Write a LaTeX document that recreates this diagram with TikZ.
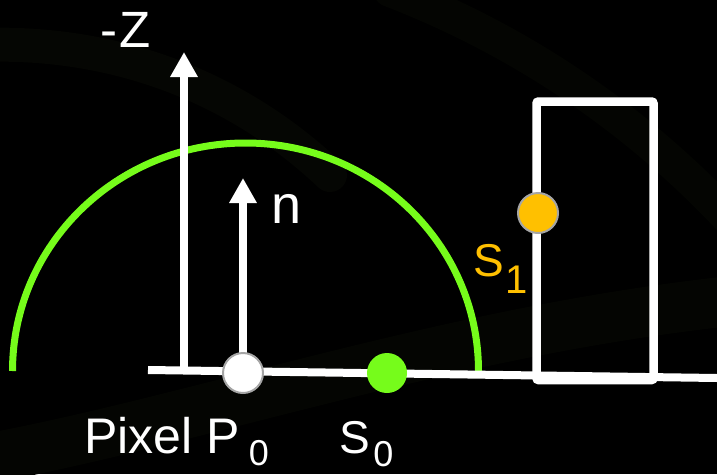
\documentclass[tikz,border=0pt]{standalone}
\usepackage{fontspec}
\setmainfont{Liberation Sans}
\usetikzlibrary{arrows.meta}
\definecolor{arcgreen}{RGB}{118,252,27}
\definecolor{sorange}{RGB}{255,192,0}
\definecolor{rimgray}{RGB}{165,165,165}
\definecolor{band}{RGB}{5,6,3}
\definecolor{bandb}{RGB}{4,5,2}
\begin{document}
\begin{tikzpicture}[x=1pt,y=-1pt,
  wline/.style={draw=white,line width=8pt},
  uparrow/.style={draw=white,line width=8.5pt,-{Triangle[width=26pt,length=25pt]}},
  dot/.style={circle,minimum size=40pt,inner sep=0pt,line width=2pt},
  lbl/.style={inner sep=0pt,anchor=base west,text=white},
  faint/.style={draw=band,line width=34pt,line cap=round},
]
\fill[black] (0,0) rectangle (717,474);
\useasboundingbox (0,0) rectangle (717,474);

% faint background swooshes
\draw[faint] (-20,45) .. controls (120,40) and (240,90) .. (330,175);
\draw[faint,draw=bandb] (390,-10) .. controls (520,40) and (640,120) .. (740,230);
\draw[faint,draw=bandb,line width=50pt] (-20,460) .. controls (200,420) and (450,330) .. (740,300);

% green hemisphere
\draw[draw=arcgreen,line width=7pt] (12.5,371) arc[start angle=180,end angle=360,x radius=233,y radius=228];

% ground line
\coordinate (gl) at (148,370);
\coordinate (gr) at (717,378);
\draw[wline] (gl) -- (gr);

% occluding box
\node[draw=white,line width=8.5pt,rounded corners=2pt,minimum width=117pt,
      minimum height=278.5pt,inner sep=0pt] (box) at (595,240.75) {};

% -Z axis
\coordinate (zbase) at (184,370);
\coordinate (ztip) at (184,52);
\draw[uparrow] (zbase) -- (ztip);

% normal
\node[dot] (P0) at (243,373) {};
\coordinate (ntip) at (243,178);
\draw[uparrow] (P0.center) -- (ntip);
\node[dot,fill=white,draw=rimgray] (P0dot) at (243,373) {};

% samples
\node[dot,fill=arcgreen] (S0) at (387,373) {};
\node[dot,fill=sorange,draw=rimgray] (S1) at (538,213) {};

% labels
\node[lbl,font=\fontsize{51}{51}\selectfont] (zlabel) at (100.5,47) {-\kern2pt Z};
\node[lbl,font=\fontsize{54}{54}\selectfont] (nlabel) at (271.5,223) {n};
\node[lbl,font=\fontsize{50}{50}\selectfont] (plabel) at (84,453)
  {Pixel P\kern9pt\raisebox{-12pt}{\fontsize{36}{36}\selectfont 0}};
\node[lbl,font=\fontsize{46}{46}\selectfont] (s0label) at (339,453)
  {S\kern3.5pt\raisebox{-13pt}{\fontsize{36}{36}\selectfont 0}};
\node[lbl,text=sorange,font=\fontsize{46}{46}\selectfont] (s1label) at (473,276)
  {S\kern2pt\raisebox{-17pt}{\fontsize{40}{40}\selectfont 1}};
\end{tikzpicture}
\end{document}
